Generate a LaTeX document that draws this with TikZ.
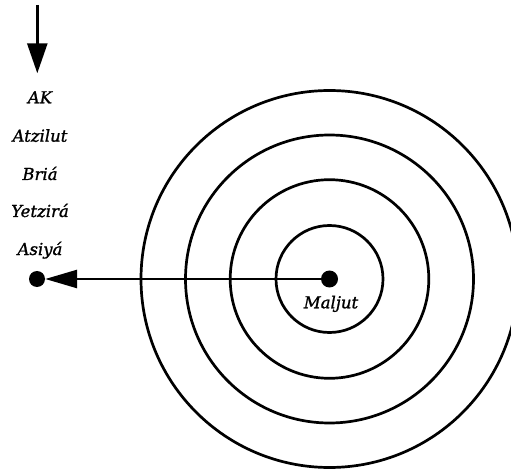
\documentclass[tikz,border=0pt]{standalone}
\usepackage{fontspec}
\newfontfamily\lblfont[ItalicFeatures={FakeBold=1.2}]{DejaVu Serif}
\usetikzlibrary{arrows.meta}
\begin{document}
\begin{tikzpicture}[x=1pt,y=-1pt,
  ring/.style={line width=2.7pt},
  lbl/.style={font=\lblfont\fontsize{16.5}{19}\selectfont\itshape, anchor=base, inner sep=0pt},
  conn/.style={line width=2.7pt},
  dotnode/.style={circle, fill=black, inner sep=0pt, minimum size=17pt}]
\useasboundingbox (0,0) rectangle (511,470);
\begin{scope}
\clip (0,0) rectangle (511,470);
\foreach \r in {53.5,99.3,144,188.5} \draw[ring] (329.5,279) circle[radius=\r];
\end{scope}
\node[dotnode] (c) at (329.5,279) {};
\node[dotnode, minimum size=16pt] (d) at (37,279) {};
\node[lbl] (mal) at (331,308.3) {Maljut};
\node[lbl] (ak) at (40,103.3) {AK};
\node[lbl] (atz) at (40,141.7) {Atzilut};
\node[lbl] (bri) at (40,180) {Briá};
\node[lbl] (yet) at (40,217) {Yetzirá};
\node[lbl] (asi) at (40,255) {Asiyá};
\coordinate (top) at (37.3,5);
\coordinate (topend) at (37.3,73.3);
\draw[conn, -{Triangle[length=30pt,width=20pt]}] (top) -- (topend);
\draw[conn, -{Triangle[length=32pt,width=18pt]}] (c.center) -- (d.east);
\end{tikzpicture}
\end{document}
